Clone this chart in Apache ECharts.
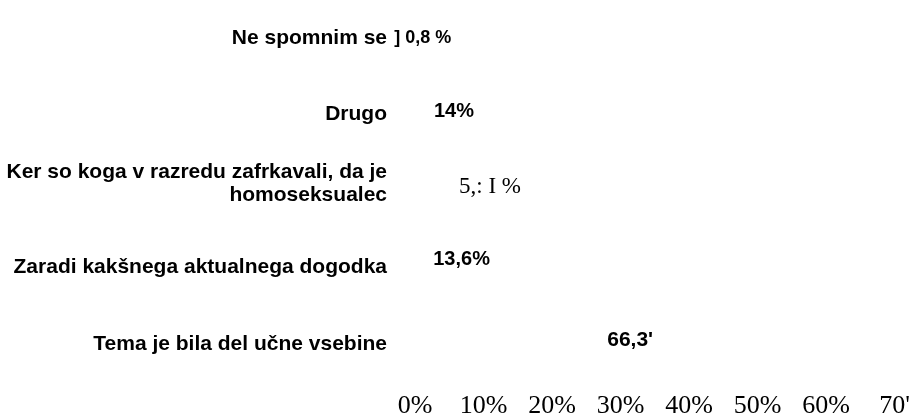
<!DOCTYPE html>
<html>
<head>
<meta charset="utf-8">
<script src="https://cdn.jsdelivr.net/npm/echarts@6/dist/echarts.min.js"></script>
<style>html,body{margin:0;padding:0;background:#fff}#c{width:913px;height:419px}</style>
</head>
<body>
<div id="c"></div>
<script>
// Data
var categories = [
  "Ne spomnim se",
  "Drugo",
  "Ker so koga v razredu zafrkavali, da je\nhomoseksualec",
  "Zaradi kakšnega aktualnega dogodka",
  "Tema je bila del učne vsebine"
];
var values = [0.8, 14, 25.1, 13.6, 66.3];
var valueLabels = ["] 0,8 %", "14%", "5,: I %", "13,6%", "66,3'"];
var tickLabels = ["0%", "10%", "20%", "30%", "40%", "50%", "60%", "70'"];

// Styling (label nudges relative to bar centre, label font sizes)
var labelOffsets = [[5, 0], [-9, -3], [-11, -4], [0, -8], [-12, -4]];
var labelSizes = [18, 20, 23, 20, 21];
var serifLabel = [false, false, true, false, false];

var chart = echarts.init(document.getElementById('c'), null, {renderer: 'canvas'});
var seriesData = values.map(function (v, i) {
  return {
    value: v,
    label: {
      offset: labelOffsets[i],
      fontFamily: serifLabel[i] ? 'Liberation Serif' : 'Liberation Sans',
      fontWeight: serifLabel[i] ? 'normal' : 'bold',
      fontSize: labelSizes[i]
    }
  };
});
var catStyle = {fontFamily: 'Liberation Sans', fontWeight: 'bold', fontSize: 21, color: '#000', align: 'right'};
chart.setOption({
  animation: false,
  backgroundColor: '#ffffff',
  grid: {left: 415, right: 15, top: -17, bottom: 36, containLabel: false},
  xAxis: {
    type: 'value', min: 0, max: 70, interval: 10,
    axisLine: {show: false}, axisTick: {show: false}, splitLine: {show: false},
    axisLabel: {
      color: '#000', fontFamily: 'Liberation Serif', fontSize: 26, margin: 11,
      formatter: function (v) { return tickLabels[Math.round(v / 10)]; }
    }
  },
  yAxis: {
    type: 'category', inverse: true, data: categories,
    axisLine: {show: false}, axisTick: {show: false}, splitLine: {show: false},
    axisLabel: {
      color: '#000', fontFamily: 'Liberation Sans', fontWeight: 'bold', fontSize: 21,
      margin: 28, align: 'right',
      formatter: function (v) {
        if (v.indexOf('\n') >= 0) {
          return v.split('\n').map(function (s) { return '{m|' + s + '}'; }).join('\n');
        }
        return '{n|' + v + '}';
      },
      rich: {
        n: Object.assign({}, catStyle),
        m: Object.assign({lineHeight: 23, padding: [0, 0, 14, 0]}, catStyle)
      }
    }
  },
  series: [{
    type: 'bar', data: seriesData, barWidth: 30,
    itemStyle: {color: 'rgba(0,0,0,0)'},
    label: {
      show: true, position: 'inside', color: '#000',
      formatter: function (p) { return valueLabels[p.dataIndex]; }
    }
  }]
});
</script>
</body>
</html>
